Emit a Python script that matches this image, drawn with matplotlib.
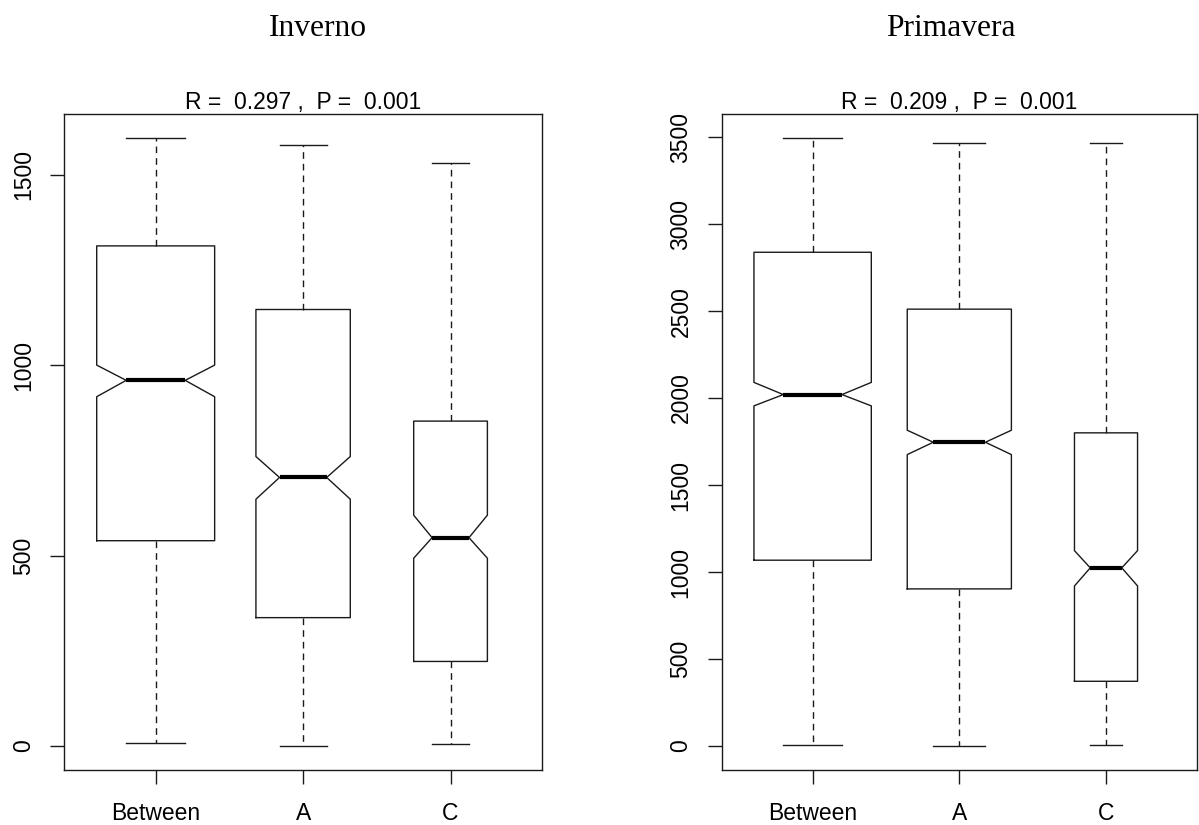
import matplotlib
matplotlib.use("Agg")
import matplotlib.pyplot as plt

# group labels shared by both panels
groups = ["Between", "A", "C"]

# Inverno (winter) box stats
inv_whislo = [8, 0, 5]
inv_q1 = [539, 337, 222]
inv_med = [960, 705, 547]
inv_q3 = [1313, 1146, 853]
inv_whishi = [1595, 1578, 1531]
inv_cilo = [917, 648, 493]
inv_cihi = [1000, 760, 606]
inv_widths = [0.80, 0.64, 0.50]
inv_ticks = [0, 500, 1000, 1500]

# Primavera (spring)
pri_whislo = [8, 0, 8]
pri_q1 = [1068, 903, 372]
pri_med = [2020, 1746, 1024]
pri_q3 = [2838, 2511, 1800]
pri_whishi = [3492, 3468, 3468]
pri_cilo = [1955, 1675, 920]
pri_cihi = [2090, 1815, 1123]
pri_widths = [0.80, 0.71, 0.43]
pri_ticks = [0, 500, 1000, 1500, 2000, 2500, 3000, 3500]

inv_sub = "R =  0.297 ,  P =  0.001"
pri_sub = "R =  0.209 ,  P =  0.001"

LC = "#1a1a1a"
SANS = ["Liberation Sans", "DejaVu Sans"]


def make_stats(whislo, q1, med, q3, whishi, cilo, cihi):
    stats = []
    for i in range(len(groups)):
        stats.append({
            "label": groups[i], "whislo": whislo[i], "q1": q1[i],
            "med": med[i], "q3": q3[i], "whishi": whishi[i],
            "cilo": cilo[i], "cihi": cihi[i], "fliers": [],
        })
    return stats


def draw_panel(ax, stats, widths, ticks, subtitle):
    ax.bxp(stats, positions=[1, 2, 3], widths=widths, shownotches=True,
           showfliers=False,
           boxprops=dict(color=LC, linewidth=1.0),
           medianprops=dict(color="black", linewidth=3.0,
                            solid_capstyle="butt"),
           whiskerprops=dict(color=LC, linewidth=1.0,
                             linestyle=(0, (4.8, 3.6))),
           capprops=dict(color=LC, linewidth=1.0))
    # R style axis limits: 4% padding around the data range
    lo = min(s["whislo"] for s in stats)
    hi = max(s["whishi"] for s in stats)
    pad = 0.04 * (hi - lo)
    ax.set_ylim(lo - pad, hi + pad)
    ax.set_xlim(0.5 - 0.04 * 3, 3.5 + 0.04 * 3)
    ax.set_yticks(ticks)
    ax.set_yticklabels([str(t) for t in ticks], rotation=90, va="center",
                       fontsize=16.5, family=SANS)
    ax.set_xticks([1, 2, 3])
    ax.set_xticklabels(groups, fontsize=16.5, family=SANS)
    ax.tick_params(axis="both", length=10, width=1.0, color=LC)
    ax.tick_params(axis="y", pad=11)
    ax.tick_params(axis="x", pad=13)
    for sp in ax.spines.values():
        sp.set_linewidth(1.0)
        sp.set_color(LC)
    ax.set_title(subtitle, fontsize=16.5, family=SANS, pad=3.5)


fig = plt.figure(figsize=(11.99, 8.25), dpi=100)
ax1 = fig.add_axes([0.0536, 0.0663, 0.452 - 0.0536, 0.8616 - 0.0663])
ax2 = fig.add_axes([0.6019, 0.0663, 0.9983 - 0.6019, 0.8616 - 0.0663])

draw_panel(ax1, make_stats(inv_whislo, inv_q1, inv_med, inv_q3, inv_whishi,
                           inv_cilo, inv_cihi), inv_widths, inv_ticks, inv_sub)
draw_panel(ax2, make_stats(pri_whislo, pri_q1, pri_med, pri_q3, pri_whishi,
                           pri_cilo, pri_cihi), pri_widths, pri_ticks, pri_sub)

fig.text(318 / 1199, 1 - 36 / 825, "Inverno", ha="center", va="baseline",
         fontsize=22.7, family=["Liberation Serif", "DejaVu Serif"])
fig.text(951 / 1199, 1 - 36 / 825, "Primavera", ha="center", va="baseline",
         fontsize=22.7, family=["Liberation Serif", "DejaVu Serif"])

fig.savefig("out.png", dpi=100)
